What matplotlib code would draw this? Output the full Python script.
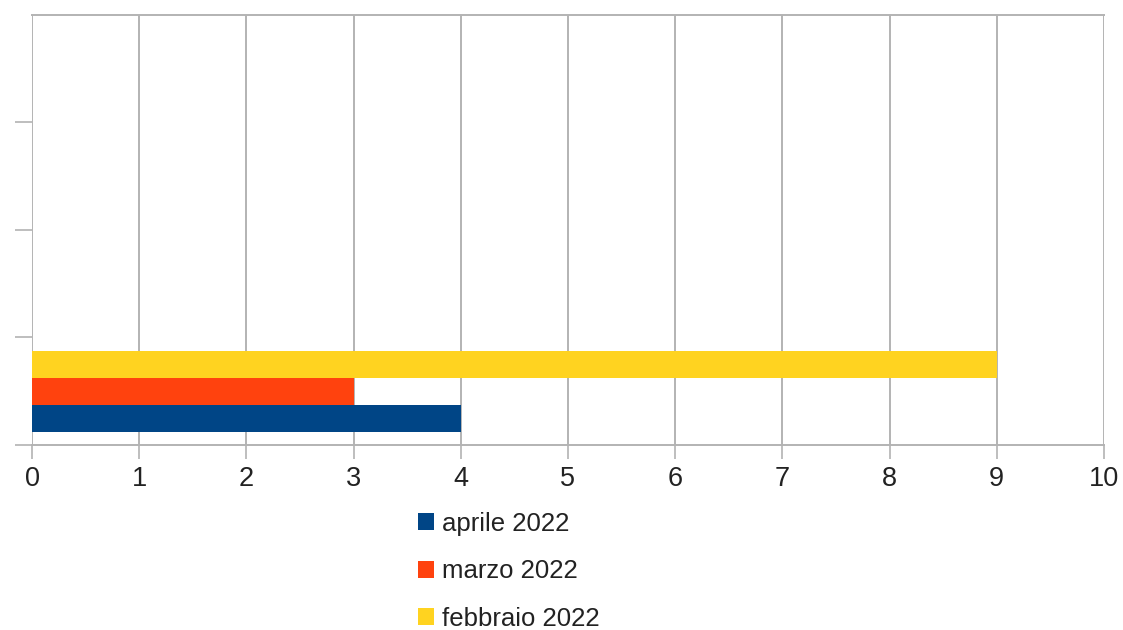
import numpy as np
import matplotlib.pyplot as plt
from matplotlib.patches import Patch

plt.rcParams['font.family'] = ['Liberation Sans', 'DejaVu Sans']

# dati: una sola categoria compilata su quattro righe del grafico
series = ["aprile 2022", "marzo 2022", "febbraio 2022"]
values = [4, 3, 9]
colors = ["#004586", "#ff420e", "#ffd320"]
n_rows = 4
xticks = np.arange(0, 11, 1)

fig = plt.figure(figsize=(11.23, 6.3), dpi=100)
ax = fig.add_axes([0.0285, 0.2937, 0.9545, 0.6825])

bar_h = 0.25
offsets = [-bar_h, 0, bar_h]
for name, v, c, off in zip(series, values, colors, offsets):
    ax.barh(0 + off, v, height=bar_h, color=c, label=name, zorder=3)

ax.set_xlim(0, 10)
ax.set_ylim(-0.5, n_rows - 0.5)
ax.set_xticks(xticks)
ax.set_xticklabels([str(t) for t in xticks], fontsize=19.5, color="#222222")
ax.set_yticks(np.arange(-0.5, n_rows - 1, 1))
ax.set_yticklabels([])

grid_c = "#b3b3b3"
ax.grid(axis="x", color=grid_c, linewidth=1.4, zorder=0)
ax.tick_params(axis="x", length=10, width=1.2, color=grid_c, pad=5)
ax.tick_params(axis="y", length=12, width=1.2, color=grid_c)
for side in ["left", "right"]:
    ax.spines[side].set_visible(False)
for side in ["top", "bottom"]:
    ax.spines[side].set_color(grid_c)
    ax.spines[side].set_linewidth(1.4)

handles = [Patch(facecolor=c, label=s) for s, c in zip(series, colors)]
fig.legend(handles=handles, loc="upper left", bbox_to_anchor=(0.372, 0.188),
           frameon=False, fontsize=18.5, handlelength=0.65, handleheight=0.65,
           handletextpad=0.3, labelspacing=0.92, borderaxespad=0, borderpad=0,
           labelcolor="#222222")

fig.savefig("out.png", dpi=100)
